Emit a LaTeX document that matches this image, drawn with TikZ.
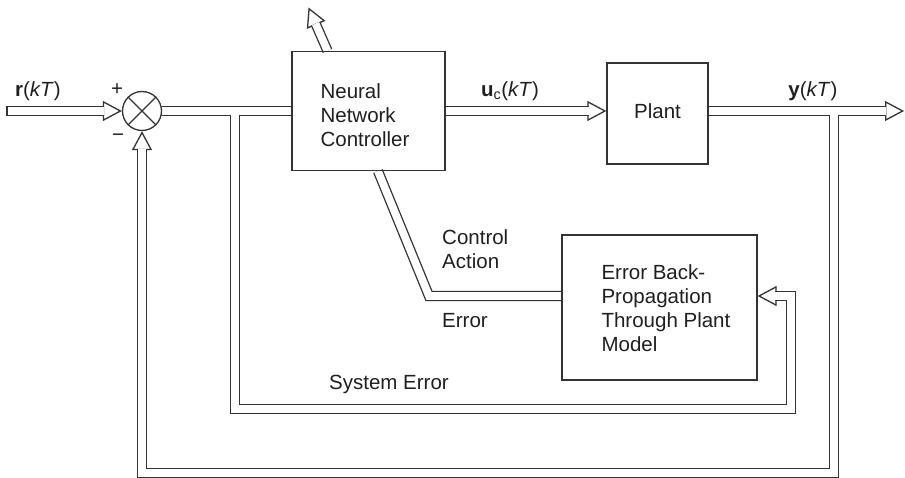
\documentclass[tikz,border=0pt]{standalone}
\usepackage{fontspec}
\setmainfont{Liberation Sans}
\usetikzlibrary{positioning, arrows.meta, calc, backgrounds}
\definecolor{trait}{gray}{0.2}
\definecolor{encre}{gray}{0.12}

\begin{document}
\begin{tikzpicture}[x=1pt, y=-1pt,
    lbl/.style={font=\fontsize{20.5}{24}\selectfont, text=encre, inner sep=0pt},
    bloc/.style={draw=trait, line width=1.3pt, inner sep=0pt},
    pipe/.style={draw=trait, line width=1.3pt, double=white, double distance=7.7pt},
    fleche/.style={pipe, shorten >=17.6pt},
    tete/.style={draw=white, line width=1.3pt,
                 -{Triangle[color=trait, fill=white, length=19pt, width=20pt, line width=1.3pt]}}]

  \useasboundingbox (0,0) rectangle (905,478);

  % blocks
  \node[bloc, minimum width=153pt, minimum height=119pt] (nn) at (368.5,111) {};
  \node[lbl, align=left, right=29pt of nn.west, yshift=-4pt] (nnt) {Neural\\Network\\Controller};
  \node[bloc, lbl, draw=trait, minimum width=101pt, minimum height=101pt, text depth=5pt] (plant) at (657.5,113.5) {Plant};
  \node[bloc, minimum width=195pt, minimum height=145pt] (ebp) at (659.5,307.5) {};
  \node[lbl, align=left, right=40pt of ebp.west, yshift=-1pt] (ebpt) {Error Back-\\Propagation\\Through Plant\\Model};
  \node[bloc, circle, minimum size=39pt] (sum) at (142,111) {};
  \draw[trait, line width=1.3pt] (sum.45) -- (sum.225) (sum.135) -- (sum.315);

  % labels
  \node[lbl] (r) at (38,91) {\textbf{r}(\textit{kT})};
  \node[lbl] (plus) at (117,90) {+};
  \node[lbl] (moins) at (118,138) {−};
  \node[lbl] (uc) at (510,91) {\textbf{u}\textsubscript{c}(\textit{kT})};
  \node[lbl] (y) at (813,91) {\textbf{y}(\textit{kT})};
  \node[lbl, align=left, anchor=west] (ca) at (442,249) {Control\\Action};
  \node[lbl, anchor=west] (err) at (442,320.5) {Error};
  \node[lbl, anchor=west] (se) at (329,384.5) {System Error};

  \coordinate (rin) at (7,111);
  \coordinate (yout) at (904,111);
  \coordinate (adapt) at (308.5,7.5);
  \coordinate (apied) at ([xshift=-41pt]nn.north);
  \coordinate (adesc) at ([xshift=9.5pt]nn.south);
  \coordinate (ein) at ([yshift=11.5pt]ebp.east);
  \coordinate (ewest) at ([yshift=11.5pt]ebp.west);
  \coordinate (tap1) at (235,111);
  \coordinate (tap2) at (834,111);

  \begin{scope}[on background layer]
    % heads first, the double lines cover their backs
    \draw[tete] ($(sum.west)!20pt!(rin)$) -- (sum.west);
    \draw[tete] ($(nn.east -| plant.west)+(-20,0)$) -- (nn.east -| plant.west);
    \draw[tete] ($(yout)!20pt!(tap2)$) -- (yout);
    \draw[tete] ($(adapt)!20pt!(apied)$) -- (adapt);
    \draw[tete] ($(ein)+(20,0)$) -- (ein);
    \draw[tete] ($(sum.south)+(0,20)$) -- (sum.south);

    \draw[fleche] (rin) -- (sum.west);
    \draw[pipe] (sum.east) -- (nn.west);
    \draw[fleche] (nn.east) -- (nn.east -| plant.west);
    \draw[fleche] (nn.east -| plant.east) -- (yout);
    \draw[fleche] (apied) -- (adapt);
    \draw[pipe] (adesc) -- (429,0 |- ewest) -- (ewest);
    \draw[fleche] ($(tap1)+(0,3.85)$) |- ($(ein)+(33,113)$) |- (ein);
    \draw[fleche] ($(tap2)+(0,3.85)$) |- ($(sum.south)+(0,341.5)$) -- (sum.south);
    \draw[trait, line width=1.3pt] ($(rin)+(0,-5.15)$) -- ($(rin)+(0,5.15)$);
  \end{scope}
\end{tikzpicture}
\end{document}
